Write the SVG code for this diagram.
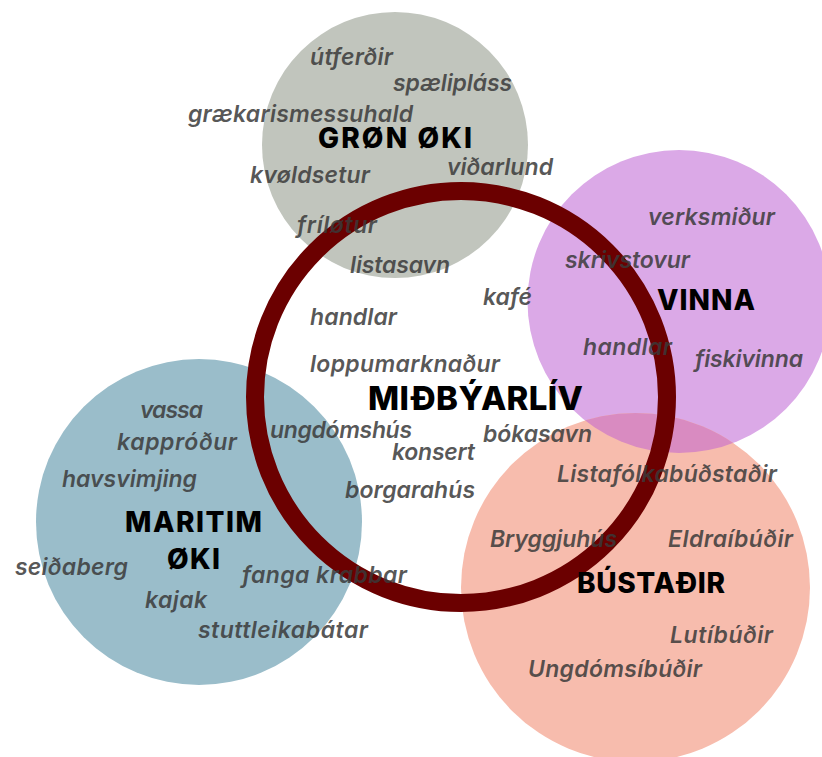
<svg xmlns="http://www.w3.org/2000/svg" width="822" height="757" viewBox="0 0 822 757">
<style>
.lbl{font-family:Inter,"Open Sans","DejaVu Sans",sans-serif;font-style:italic;font-weight:600;font-size:23px;fill:#3a3a3a;fill-opacity:0.85}
.hdr{font-family:Inter,"Open Sans","DejaVu Sans",sans-serif;font-weight:800;font-size:28px;fill:#000}
</style>
<defs>
<clipPath id="purpleClip"><circle cx="679" cy="301.5" r="151.5"/></clipPath>
</defs>
<rect width="822" height="757" fill="#fff"/>
<g id="gron-oki-circle"><circle cx="395" cy="145" r="133" fill="#c1c5bd"/></g>
<g id="vinna-circle"><circle cx="679" cy="301.5" r="151.5" fill="#dba9e7"/></g>
<g id="maritim-circle"><circle cx="199" cy="522" r="163" fill="#9abdca"/></g>
<g id="bustadir-circle">
<circle cx="635.5" cy="587.5" r="174.5" fill="#f7bcad"/>
<circle cx="635.5" cy="587.5" r="174.5" fill="#d98bc1" clip-path="url(#purpleClip)"/>
</g>
<g id="midbyarliv-ring"><circle cx="461" cy="397" r="206" fill="none" stroke="#6b0000" stroke-width="18"/></g>
<g id="gron-oki">
<text class="hdr" x="318" y="148" textLength="154">GRØN ØKI</text>
<text class="lbl" x="310" y="65" textLength="83">útferðir</text>
<text class="lbl" x="393" y="91" textLength="119">spælipláss</text>
<text class="lbl" x="188" y="122" textLength="225">grækarismessuhald</text>
<text class="lbl" x="447" y="175" textLength="106">viðarlund</text>
<text class="lbl" x="250" y="183" textLength="120">kvøldsetur</text>
<text class="lbl" x="297" y="233" textLength="80">fríløtur</text>
<text class="lbl" x="350" y="273" textLength="100">listasavn</text>
</g>
<g id="vinna">
<text class="hdr" x="657" y="310" textLength="98">VINNA</text>
<text class="lbl" x="648" y="225" textLength="127">verksmiður</text>
<text class="lbl" x="565" y="268" textLength="125">skrivstovur</text>
<text class="lbl" x="583" y="355" textLength="89">handlar</text>
<text class="lbl" x="695" y="367" textLength="108">fiskivinna</text>
</g>
<g id="midbyarliv">
<text class="hdr" x="368" y="410" style="font-size:33px" textLength="215">MIÐBÝARLÍV</text>
<text class="lbl" x="483" y="305" textLength="49">kafé</text>
<text class="lbl" x="310" y="325" textLength="87">handlar</text>
<text class="lbl" x="310" y="372" textLength="190">loppumarknaður</text>
<text class="lbl" x="270" y="438" textLength="142">ungdómshús</text>
<text class="lbl" x="483" y="442" textLength="109">bókasavn</text>
<text class="lbl" x="392" y="460" textLength="83">konsert</text>
<text class="lbl" x="345" y="498" textLength="130">borgarahús</text>
</g>
<g id="maritim-oki">
<text class="hdr" x="125" y="532" textLength="137">MARITIM</text>
<text class="hdr" x="167" y="569" textLength="53">ØKI</text>
<text class="lbl" x="140" y="418" textLength="63">vassa</text>
<text class="lbl" x="117" y="450" textLength="120">kappróður</text>
<text class="lbl" x="62" y="487" textLength="135">havsvimjing</text>
<text class="lbl" x="15" y="575" textLength="113">seiðaberg</text>
<text class="lbl" x="242" y="583" textLength="165">fanga krabbar</text>
<text class="lbl" x="145" y="608" textLength="62">kajak</text>
<text class="lbl" x="198" y="638" textLength="170">stuttleikabátar</text>
</g>
<g id="bustadir">
<text class="hdr" x="577" y="593" textLength="148">BÚSTAÐIR</text>
<text class="lbl" x="557" y="482" textLength="220">Listafólkabúðstaðir</text>
<text class="lbl" x="490" y="547" textLength="127">Bryggjuhús</text>
<text class="lbl" x="668" y="547" textLength="125">Eldraíbúðir</text>
<text class="lbl" x="670" y="643" textLength="103">Lutíbúðir</text>
<text class="lbl" x="528" y="677" textLength="174">Ungdómsíbúðir</text>
</g>
<g id="connectors"/>
</svg>
